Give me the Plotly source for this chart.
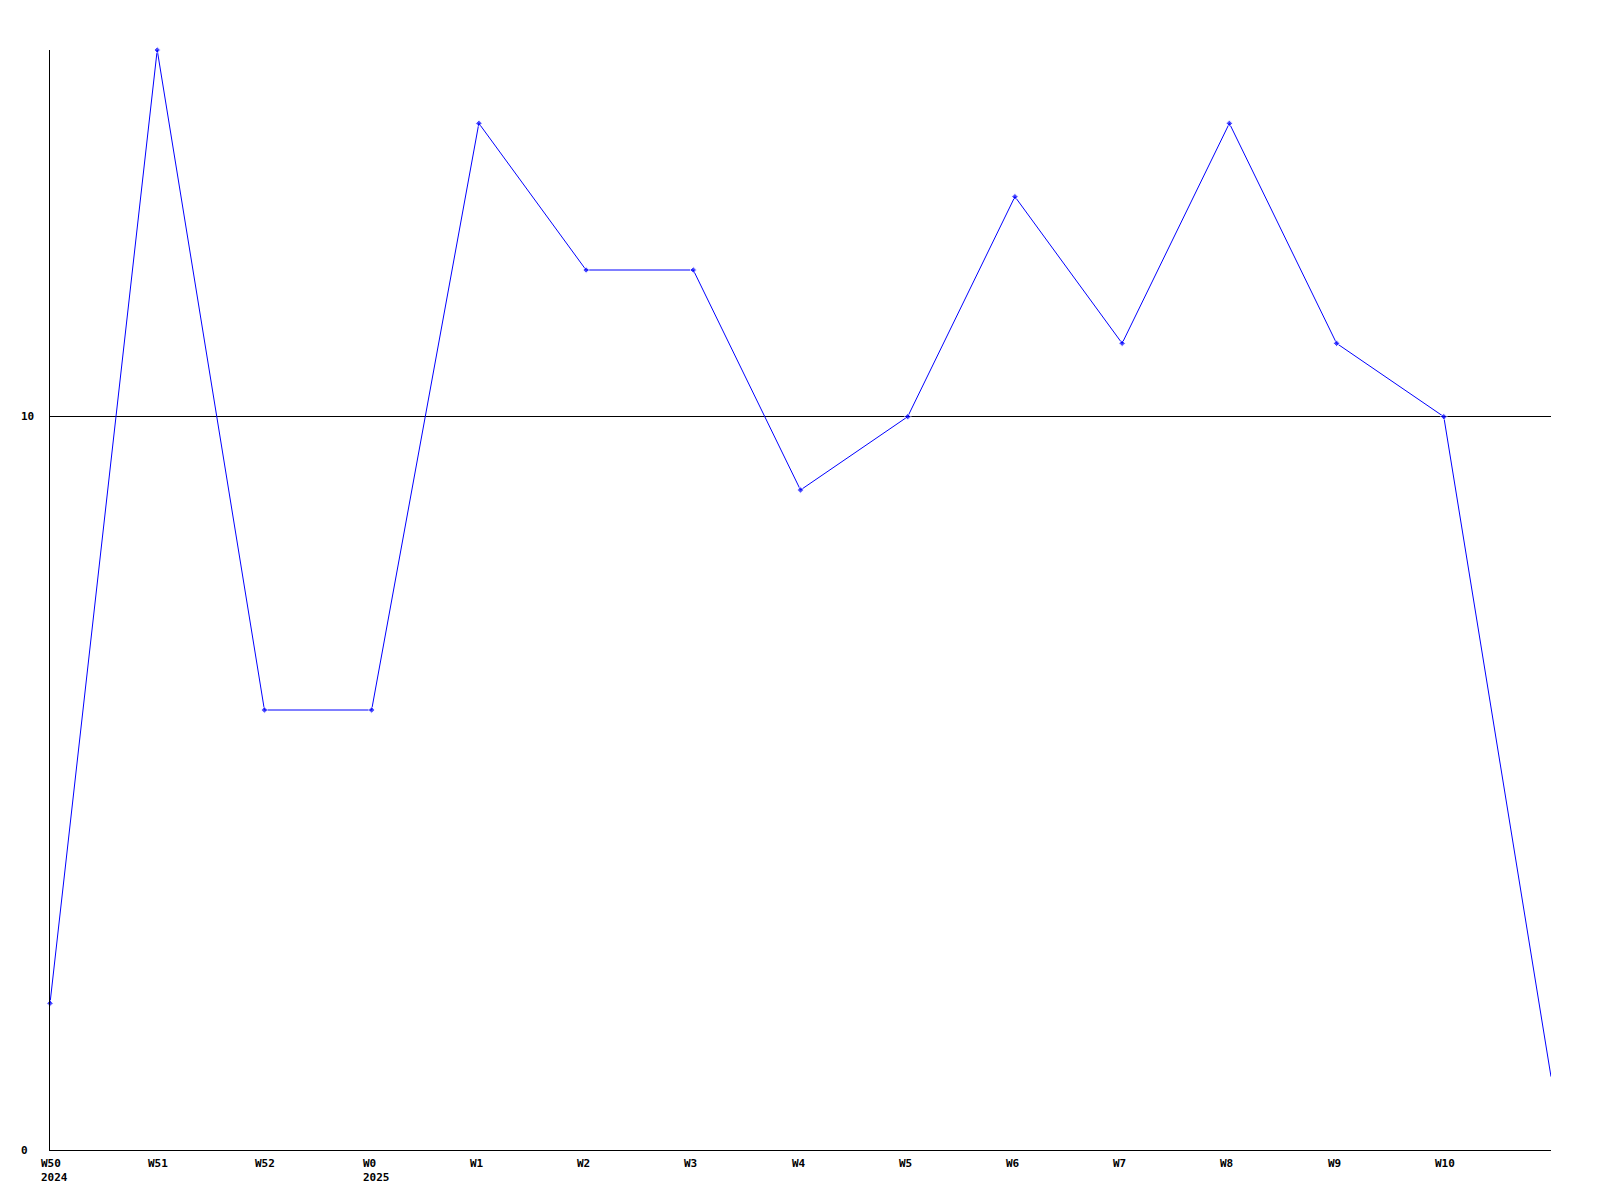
import plotly.graph_objects as go

weeks = ["W50", "W51", "W52", "W0", "W1", "W2", "W3", "W4", "W5", "W6", "W7", "W8", "W9", "W10", "W11"]
values = [2, 15, 6, 6, 14, 12, 12, 9, 10, 13, 11, 14, 11, 10, 1]
tick_labels = ["W50<br>2024", "W51", "W52", "W0<br>2025", "W1", "W2", "W3", "W4", "W5", "W6", "W7", "W8", "W9", "W10"]
y_ticks = [0, 10]

x = list(range(len(weeks)))
marker_sizes = [5] * (len(weeks) - 1) + [0]

fig = go.Figure()
fig.add_trace(go.Scatter(
    x=x, y=values, mode="lines+markers",
    line=dict(color="#0000ff", width=1),
    marker=dict(symbol="diamond", size=marker_sizes, color="#0000ff"),
    cliponaxis=False,
    hoverinfo="skip",
))

font = dict(family="DejaVu Sans Mono", size=11, color="black", weight="bold")

annotations = []
for i, lab in enumerate(tick_labels):
    annotations.append(dict(
        x=i, y=0, xref="x", yref="paper", text=lab, showarrow=False,
        xanchor="left", yanchor="top", align="left", xshift=-11, yshift=-5,
        font=font,
    ))
for v in y_ticks:
    annotations.append(dict(
        x=0, y=v, xref="paper", yref="y", text=str(v), showarrow=False,
        xanchor="left", yanchor="middle", xshift=-31, font=font,
    ))

fig.update_layout(
    width=1600, height=1200,
    margin=dict(l=42, r=57, t=42, b=58),
    paper_bgcolor="white", plot_bgcolor="white",
    showlegend=False,
    annotations=annotations,
    xaxis=dict(range=[0, len(weeks) - 1], showgrid=False, zeroline=False,
               showline=True, linecolor="black", linewidth=1,
               showticklabels=False, ticks=""),
    yaxis=dict(range=[0, 15], tickvals=y_ticks, showgrid=True, gridcolor="black",
               gridwidth=1, zeroline=False, showline=True, linecolor="black",
               linewidth=1, showticklabels=False, ticks=""),
)

fig.write_html("out.html")
